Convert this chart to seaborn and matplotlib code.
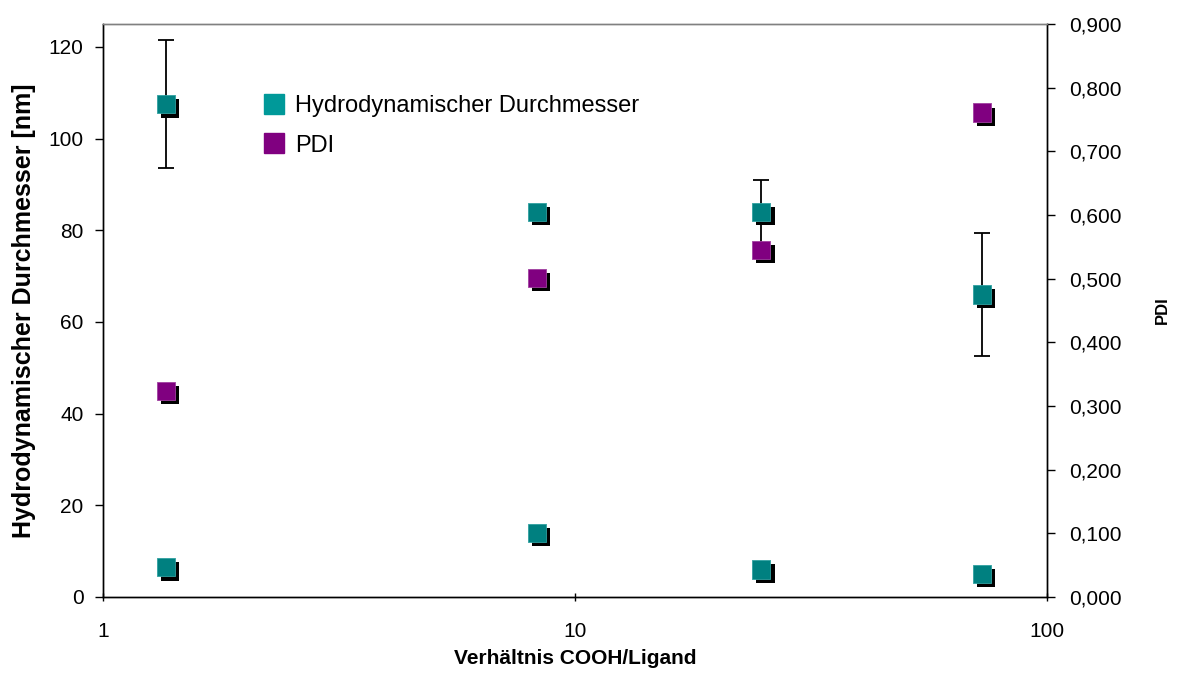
import pandas as pd
import seaborn as sns
import matplotlib.pyplot as plt
import matplotlib.patheffects as pe
from matplotlib.lines import Line2D
from matplotlib.ticker import FuncFormatter

# Daten
verhaeltnis = [1.36, 8.3, 24.8, 72.8]
durchmesser_gross = [107.5, 84.0, 84.0, 66.0]
fehler_gross = [14.0, 0.0, 7.0, 13.5]
durchmesser_klein = [6.5, 14.0, 6.0, 5.0]
pdi = [0.324, 0.501, 0.545, 0.761]

teal = "#008080"
lila = "#800080"

df_d = pd.DataFrame({
    "x": verhaeltnis + verhaeltnis,
    "d": durchmesser_gross + durchmesser_klein,
})
df_p = pd.DataFrame({"x": verhaeltnis, "pdi": pdi})

sns.set_style("white")
plt.rcParams['font.family'] = ['Liberation Sans', 'DejaVu Sans']
for k in ["text.color", "axes.labelcolor", "xtick.color", "ytick.color"]:
    plt.rcParams[k] = "black"

fig = plt.figure(figsize=(11.78, 6.77), dpi=100)
ax = fig.add_axes([0.0874, 0.1182, 0.8014, 0.8463])
ax2 = ax.twinx()

schatten = [pe.SimplePatchShadow(offset=(3, -3), shadow_rgbFace='black', alpha=1.0), pe.Normal()]

# Fehlerbalken
ax.errorbar(verhaeltnis, durchmesser_gross, yerr=fehler_gross, fmt='none',
            ecolor='black', elinewidth=1.3, capsize=6, capthick=1.3, zorder=1)

sns.scatterplot(data=df_d, x="x", y="d", ax=ax, marker="s", s=175,
                color=teal, edgecolor="#30a0a0", linewidth=0.6, zorder=3, legend=False)
ax.collections[-1].set_path_effects(schatten)

sns.scatterplot(data=df_p, x="x", y="pdi", ax=ax2, marker="s", s=175,
                color=lila, edgecolor="#a040a0", linewidth=0.6, zorder=3, legend=False)
ax2.collections[-1].set_path_effects(schatten)

ax.set_xscale("log")
ax.set_xlim(1, 100)
ax.set_ylim(0, 125)
ax2.set_ylim(0, 0.9)
ax.set_yticks([0, 20, 40, 60, 80, 100, 120])
ax2.set_yticks([i / 10 for i in range(10)])
ax.xaxis.set_major_formatter(FuncFormatter(lambda v, p: f"{v:g}"))
ax.xaxis.set_minor_locator(plt.NullLocator())
ax2.yaxis.set_major_formatter(FuncFormatter(lambda v, p: f"{v:.3f}".replace(".", ",")))

ax.set_xlabel("Verhältnis COOH/Ligand", fontsize=15, fontweight="bold", labelpad=6)
ax.set_ylabel("Hydrodynamischer Durchmesser [nm]", fontsize=18, fontweight="bold", labelpad=9)
ax2.set_ylabel("PDI", fontsize=12, fontweight="bold", labelpad=24)

for a in (ax, ax2):
    for s in a.spines.values():
        s.set_color("black")
        s.set_linewidth(1.0)
    a.spines["top"].set_color("#808080")
    a.tick_params(axis="both", labelsize=15, length=6, width=1, color="black")
ax.tick_params(axis="y", direction="out", left=True, right=False, pad=8)
ax2.tick_params(axis="y", direction="out", right=True, pad=10)
ax.tick_params(axis="x", direction="inout", bottom=True, pad=15)

handles = [
    Line2D([], [], marker="s", linestyle="none", markersize=14, color="#009999", markeredgecolor="#009999"),
    Line2D([], [], marker="s", linestyle="none", markersize=14, color=lila, markeredgecolor=lila),
]
ax.legend(handles, ["Hydrodynamischer Durchmesser", "PDI"], loc="upper left",
          bbox_to_anchor=(0.156, 0.897), frameon=False, fontsize=17,
          borderpad=0, handlelength=1.0, handletextpad=0.4, labelspacing=0.75)

plt.savefig("out.png", dpi=100)
